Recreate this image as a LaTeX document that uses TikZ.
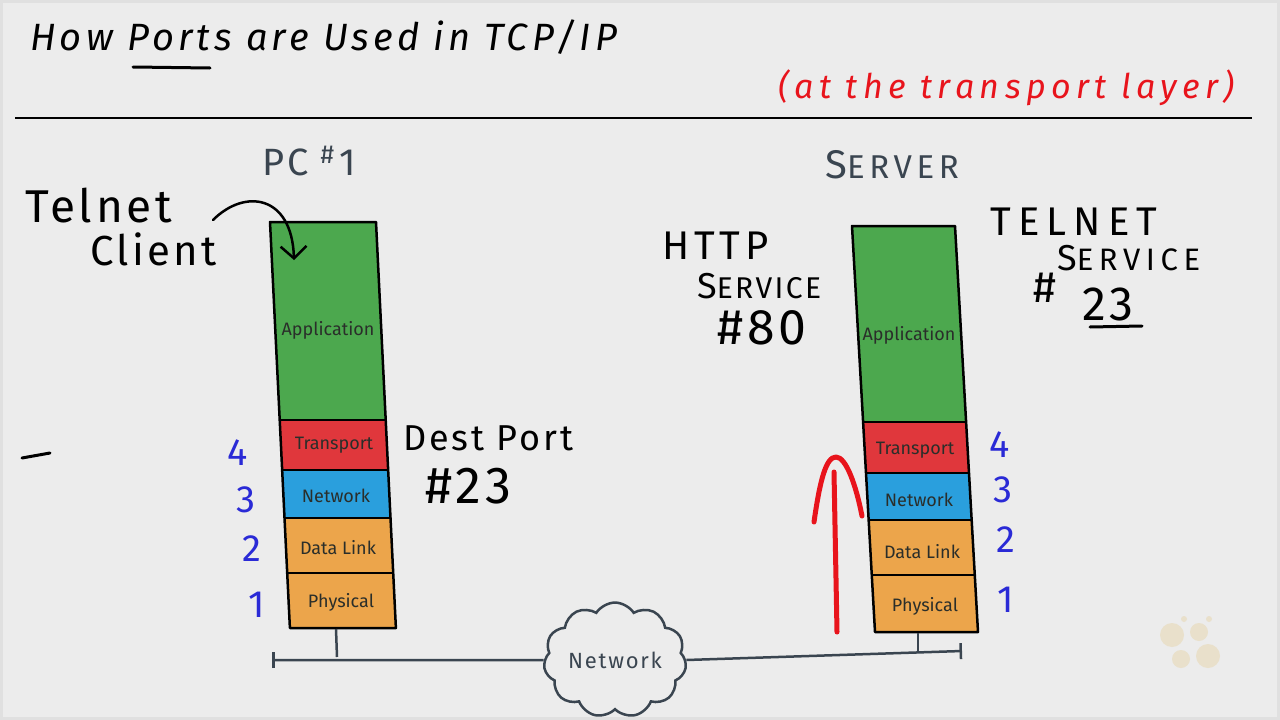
\documentclass[tikz,border=0pt]{standalone}
\usepackage{fontspec}
\setmainfont{Fira Sans}
\newfontfamily\hand[LetterSpace=8]{Fira Sans}
\newfontfamily\handtitle[LetterSpace=11]{Fira Sans}
\newfontfamily\handred[LetterSpace=16]{Fira Sans}
\usetikzlibrary{shapes.symbols,arrows.meta}
\definecolor{bg}{HTML}{ECECEC}
\definecolor{appgreen}{HTML}{4CA84E}
\definecolor{trred}{HTML}{E0373C}
\definecolor{netblue}{HTML}{2A9FDD}
\definecolor{dlorange}{HTML}{ECA54B}
\definecolor{slate}{HTML}{3A4550}
\definecolor{numblue}{HTML}{2A2AD6}
\definecolor{inkred}{HTML}{E8141C}
\definecolor{laytext}{HTML}{2A2E2A}
\definecolor{dotbeige}{HTML}{E9E0CB}
\begin{document}
\begin{tikzpicture}[x=1pt,y=-1pt,
  lbl/.style={inner sep=0pt},
  layerbox/.style={draw=black,line width=2.5pt,line join=round},
  layerlbl/.style={inner sep=0pt,text=laytext,font=\fontsize{18}{18}\selectfont},
  num/.style={inner sep=0pt,text=numblue,font=\fontsize{38}{38}\selectfont},
  ink/.style={line width=2.5pt,line cap=round,line join=round},
  bigtxt/.style={lbl,font=\hand\fontsize{#1}{#1}\selectfont}
]
\useasboundingbox (0,0) rectangle (1280,720);
\fill[bg] (0,0) rectangle (1280,720);
\draw[black!12,line width=3pt] (1.5,1.5) rectangle (1278.5,718.5);

% title
\node[lbl,anchor=base west,font=\handtitle\itshape\fontsize{38}{38}\selectfont] (title) at (30,50) {How Ports are Used in TCP/IP};
\draw[ink,line width=3pt] (133,67) -- (210,68);
\node[lbl,anchor=base east,text=inkred,font=\handred\itshape\fontsize{34}{34}\selectfont] (sub) at (1235,98) {(at the transport layer)};
\draw[line width=2.5pt] (15,118) -- (1252,118);

% PC stack
\fill[appgreen] (270,222) -- (376,222) -- (385.7,420) -- (279.7,420) -- cycle;
\fill[trred] (279.7,420) -- (385.7,420) -- (388.2,470) -- (282.2,470) -- cycle;
\fill[netblue] (282.2,470) -- (388.2,470) -- (390.5,518) -- (284.5,518) -- cycle;
\fill[dlorange] (284.5,518) -- (390.5,518) -- (393.2,573) -- (287.2,573) -- cycle;
\fill[dlorange] (287.2,573) -- (393.2,573) -- (395.9,628) -- (289.9,628) -- cycle;
\draw[layerbox] (270,222) -- (376,222) -- (395.9,628) -- (289.9,628) -- cycle;
\draw[layerbox] (279.7,420) -- (385.7,420);
\draw[layerbox] (282.2,470) -- (388.2,470);
\draw[layerbox] (284.5,518) -- (390.5,518);
\draw[layerbox] (287.2,573) -- (393.2,573);
\node[layerlbl] (pcapp) at (328,330) {Application};
\node[layerlbl] (pctr) at (334,445) {Transport};
\node[layerlbl] (pcnet) at (336,496) {Network};
\node[layerlbl] (pcdl) at (338,548) {Data Link};
\node[layerlbl] (pcph) at (341,602) {Physical};
\node[num] (pc4) at (238,453) {4};
\node[num] (pc3) at (246,500) {3};
\node[num] (pc2) at (252,549) {2};
\node[num] (pc1) at (257,605) {1};
\draw[ink,line width=3pt] (22,458) -- (50,453);

% PC #1 and Telnet client
\node[lbl,anchor=base west,text=slate,font=\hand\fontsize{38}{38}\selectfont] (pc) at (262,175) {PC\hspace{12pt}\raisebox{0.3em}{\fontsize{26}{26}\selectfont\#}\hspace{5pt}1};
\node[bigtxt=46,anchor=base west] (telnet) at (25,222) {Telnet};
\node[bigtxt=42,anchor=base west] (client) at (90,265) {Client};
\coordinate (tcstart) at (213,220);
\coordinate (tcend) at (294,260);
\draw[ink,-{Straight Barb[length=12pt,width=26pt,line width=2.5pt]}] (tcstart) .. controls (245,188) and (292,195) .. (tcend);

\node[bigtxt=36,anchor=base west] (dest) at (403,450) {Dest Port};
\node[bigtxt=52,anchor=base west] (dest23) at (425,503) {\#23};

% Server
\node[lbl,anchor=base west,text=slate,font=\hand\fontsize{40}{40}\selectfont] (server) at (825,178) {S\fontsize{33}{33}\selectfont\addfontfeature{LetterSpace=14}ERVER};
\node[bigtxt=40,anchor=base west,font=\hand\fontsize{40}{40}\selectfont\addfontfeature{LetterSpace=12}] (http) at (662,259) {HTTP};
\node[bigtxt=36,anchor=base west] (httpsvc) at (697,298) {S\fontsize{30}{30}\selectfont ERVICE};
\node[bigtxt=50,anchor=base west] (http80) at (717,344) {\#80};
\node[lbl,anchor=base west,font=\hand\fontsize{40}{40}\selectfont\addfontfeature{LetterSpace=18}] (tel) at (990,235) {TELNET};
\node[lbl,anchor=base west,font=\hand\fontsize{36}{36}\selectfont] (telsvc) at (1057,270) {S\fontsize{31}{31}\selectfont\addfontfeature{LetterSpace=18}ERVICE};
\node[bigtxt=44,anchor=base west] (telhash) at (1033,302) {\#};
\node[bigtxt=48,anchor=base west] (tel23) at (1082,320) {23};
\draw[ink,line width=3pt] (1090,327) -- (1142,326);

\fill[appgreen] (852,226) -- (955,226) -- (966.1,422) -- (863.1,422) -- cycle;
\fill[trred] (863.1,422) -- (966.1,422) -- (969,473) -- (866,473) -- cycle;
\fill[netblue] (866,473) -- (969,473) -- (971.7,520) -- (868.7,520) -- cycle;
\fill[dlorange] (868.7,520) -- (971.7,520) -- (974.8,575) -- (871.8,575) -- cycle;
\fill[dlorange] (871.8,575) -- (974.8,575) -- (978,632) -- (875,632) -- cycle;
\draw[layerbox] (852,226) -- (955,226) -- (978,632) -- (875,632) -- cycle;
\draw[layerbox] (863.1,422) -- (966.1,422);
\draw[layerbox] (866,473) -- (969,473);
\draw[layerbox] (868.7,520) -- (971.7,520);
\draw[layerbox] (871.8,575) -- (974.8,575);
\node[layerlbl] (svapp) at (909,335) {Application};
\node[layerlbl] (svtr) at (915,450) {Transport};
\node[layerlbl] (svnet) at (919,500) {Network};
\node[layerlbl] (svdl) at (922,552) {Data Link};
\node[layerlbl] (svph) at (925,606) {Physical};
\node[num] (sv4) at (1000,445) {4};
\node[num] (sv3) at (1003,490) {3};
\node[num] (sv2) at (1006,540) {2};
\node[num] (sv1) at (1006,600) {1};

% red arrow
\coordinate (rbase) at (837,632);
\coordinate (rtop) at (834,472);
\coordinate (rl) at (814,522);
\coordinate (rr) at (862,516);
\draw[inkred,line width=5pt,line cap=round] (rbase) -- (rtop);
\draw[inkred,line width=5pt,line cap=round,line join=round] (rl) .. controls (820,480) and (826,457) .. (836,457) .. controls (846,457) and (856,485) .. (rr);

% network
\node[cloud,cloud puffs=11,cloud puff arc=115,aspect=1.35,draw=slate,line width=2.5pt,fill=bg,minimum width=128pt,minimum height=86pt,text=slate,font=\hand\fontsize{22}{22}\selectfont,inner sep=0pt] (cloud) at (615,660) {Network};
\coordinate (busL) at (272,660);
\coordinate (busR) at (962,651);
\coordinate (pctop) at (336,629);
\coordinate (pctap) at (337,657);
\coordinate (svtop) at (918,633);
\coordinate (svtap) at (918,651);
\draw[slate,line width=2.5pt,{Bar[width=16pt]}-] (busL) -- (cloud.west);
\draw[slate,line width=2.5pt,-{Bar[width=16pt]}] (cloud.east) -- (busR);
\draw[slate,line width=2.5pt] (pctop) -- (pctap);
\draw[slate,line width=2.5pt] (svtop) -- (svtap);

% watermark
\fill[dotbeige] (1172,635) circle (12) (1199,632) circle (9) (1181,659) circle (9) (1208,656) circle (12) (1184,619) circle (3) (1209,619) circle (3);
\end{tikzpicture}
\end{document}
